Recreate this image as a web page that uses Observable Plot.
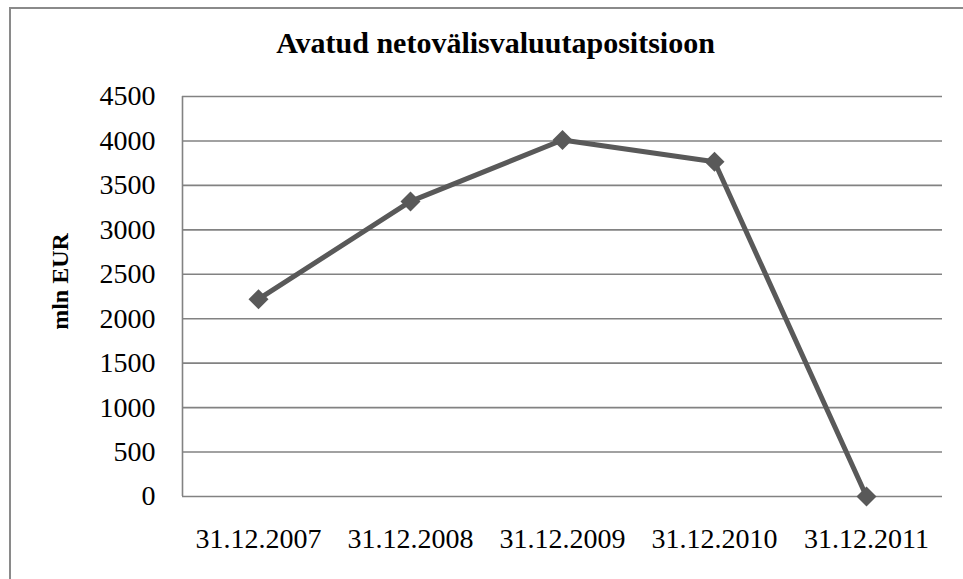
<!DOCTYPE html>
<html><head><meta charset="utf-8">
<script src="https://cdn.jsdelivr.net/npm/d3@7"></script>
<script src="https://cdn.jsdelivr.net/npm/@observablehq/plot@0.6"></script>
<style>
body{margin:0;background:#fff;}
#wrap{position:relative;width:963px;height:579px;overflow:hidden;background:#fff;}
#frame{position:absolute;left:9px;top:7px;width:1100px;height:1100px;border:2.5px solid #8a8a8a;box-sizing:border-box;}
#chart{position:absolute;left:0;top:0;}
</style></head><body><div id="wrap"><div id="frame"></div><div id="chart"></div></div>
<script>
const categories = ["31.12.2007","31.12.2008","31.12.2009","31.12.2010","31.12.2011"];
const values = [2220, 3320, 4010, 3765, 0];
const yTicks = [0, 500, 1000, 1500, 2000, 2500, 3000, 3500, 4000, 4500];
const title = "Avatud netovälisvaluutapositsioon";
const yLabel = "mln EUR";

const data = categories.map((c, i) => ({i, date: c, value: values[i]}));
const idx = categories.map((c, i) => i);
const serif = "Liberation Serif, Times New Roman, serif";

const chart = Plot.plot({
  width: 963, height: 579,
  marginLeft: 182, marginRight: 21, marginTop: 96, marginBottom: 83,
  style: {fontFamily: serif, fontSize: "28px", color: "#000", background: "transparent", overflow: "visible"},
  x: {type: "linear", domain: [-0.5, categories.length - 0.5], label: null},
  y: {domain: [0, 4500], label: null},
  marks: [
    Plot.ruleY(yTicks, {stroke: "#828282", strokeWidth: 1.6}),
    Plot.ruleX([-0.5], {stroke: "#828282", strokeWidth: 1.6}),
    Plot.axisY({ticks: yTicks, tickFormat: d => String(d), tickSize: 0, tickPadding: 27, label: null, fill: "#000", fontSize: 28, fontFamily: serif}),
    Plot.axisX({ticks: idx, tickFormat: i => categories[i], tickSize: 0, tickPadding: 32, label: null, fill: "#000", fontSize: 28, fontFamily: serif}),
    Plot.line(data, {x: "i", y: "value", stroke: "#595959", strokeWidth: 5}),
    Plot.dot(data, {x: "i", y: "value", symbol: "diamond2", r: 9, fill: "#595959", stroke: "none"}),
    Plot.text([title], {frameAnchor: "top", textAnchor: "middle", dx: -67, dy: -65, fontWeight: "bold", fontSize: 30, fontFamily: serif, fill: "#000"}),
    Plot.text([yLabel], {frameAnchor: "left", textAnchor: "middle", rotate: -90, dx: -122, dy: -15, fontWeight: "bold", fontSize: 24, fontFamily: serif, fill: "#000"})
  ]
});
document.getElementById("chart").appendChild(chart);
</script>
</body></html>
